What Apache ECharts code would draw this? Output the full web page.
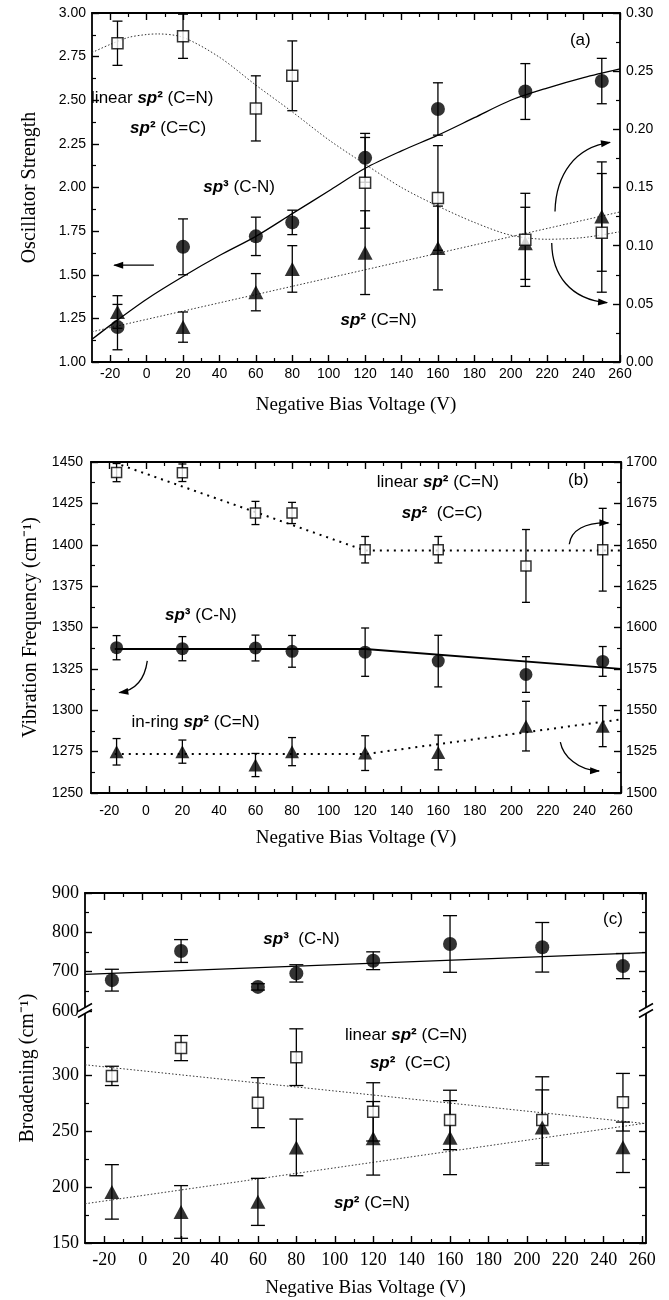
<!DOCTYPE html>
<html><head><meta charset="utf-8">
<script src="https://cdn.jsdelivr.net/npm/echarts@6/dist/echarts.min.js"></script>
<style>html,body{margin:0;padding:0;background:#fff}#c{width:669px;height:1300px}</style>
</head><body><div id="c"></div>
<script>
// ---------------- data ----------------
const xTickLabels = [-20,0,20,40,60,80,100,120,140,160,180,200,220,240,260];
const xMinorTicks = [-10,10,30,50,70,90,110,130,150,170,190,210,230,250];
const biasV = [-16, 20, 60, 80, 120, 160, 208, 250];

// panel (a) oscillator strength
const aLeftTicks = [1.00,1.25,1.50,1.75,2.00,2.25,2.50,2.75,3.00];
const aLeftMinor = [1.125,1.375,1.625,1.875,2.125,2.375,2.625,2.875];
const aRightTicks = [0.00,0.05,0.10,0.15,0.20,0.25,0.30];
const aRightMinor = [0.025,0.075,0.125,0.175,0.225,0.275];
const aSp3 = [1.20, 1.66, 1.72, 1.80, 2.17, 2.45, 2.55, 2.61];
const aSp3Err = [0.13, 0.16, 0.11, 0.07, 0.14, 0.15, 0.16, 0.13];
const aLin = [0.274, 0.280, 0.218, 0.246, 0.154, 0.141, 0.105, 0.111];
const aLinErr = [0.019, 0.019, 0.028, 0.030, 0.039, 0.045, 0.040, 0.051];
const aRing = [0.043, 0.030, 0.060, 0.080, 0.094, 0.098, 0.102, 0.125];
const aRingErr = [0.014, 0.013, 0.016, 0.020, 0.036, 0.036, 0.031, 0.047];
const aSp3FitX = [-30,-20,0,20,40,60,80,100,120,140,160,180,200,220,240,260];
const aSp3FitY = [1.13,1.21,1.36,1.49,1.61,1.72,1.85,1.98,2.11,2.21,2.30,2.40,2.50,2.57,2.63,2.68];
const aLinFitX = [-30,-20,-10,0,6,20,40,60,80,100,120,140,160,180,200,220,240,260];
const aLinFitY = [0.266,0.273,0.279,0.2815,0.282,0.279,0.262,0.238,0.215,0.191,0.170,0.150,0.134,0.120,0.109,0.1055,0.107,0.112];
const aRingFitX = [-30, 260];
const aRingFitY = [0.026, 0.129];

// panel (b) vibration frequency
const bLeftTicks = [1250,1275,1300,1325,1350,1375,1400,1425,1450];
const bLeftMinor = [1262.5,1287.5,1312.5,1337.5,1362.5,1387.5,1412.5,1437.5];
const bRightTicks = [1500,1525,1550,1575,1600,1625,1650,1675,1700];
const bRightMinor = [1512.5,1537.5,1562.5,1587.5,1612.5,1637.5,1662.5,1687.5];
const bLin = [1693.6, 1693.5, 1669.2, 1669.2, 1647, 1647, 1637.2, 1647];
const bLinErr = [5.5, 5.3, 7, 6.4, 8, 8, 22, 25];
const bSp3 = [1337.8, 1337.2, 1337.6, 1335.6, 1335.1, 1329.7, 1321.6, 1329.5];
const bSp3Err = [7.3, 7.3, 7.8, 9.6, 14.6, 15.6, 10.8, 9];
const bRing = [1524.9, 1525, 1516.9, 1525, 1524.1, 1524.5, 1540.4, 1540.4];
const bRingErr = [8, 7, 7, 8.5, 10.5, 10.5, 15, 12.4];
const bFitX = [-17, 120, 260];
const bLinFitY = [1699.5, 1646.5, 1646.5];
const bSp3FitY = [1337, 1337, 1325];
const bRingFitY = [1523.5, 1523.5, 1544.5];

// panel (c) broadening
const cUpTicks = [600,700,800,900];
const cUpMinor = [650,750,850];
const cLowTicks = [150,200,250,300];
const cLowMinor = [175,225,275,325];
const cSp3 = [678.4, 752.5, 661.3, 695.6, 727.8, 770.4, 762, 714.2];
const cSp3Err = [27.7, 29, 8, 22, 22.6, 72, 63, 32];
const cLin = [299.1, 323.9, 275.2, 315.8, 267, 259.8, 259.8, 275.6];
const cLinErr = [8.6, 11.2, 22.3, 25.3, 26, 26.5, 38.5, 25.7];
const cRing = [195.6, 177.7, 186.7, 235.3, 243.4, 244, 253, 235.4];
const cRingErr = [24.3, 23.5, 21, 25.3, 32.8, 33, 33.6, 22.5];
const cFitX = [-30, 262];
const cSp3FitY = [693, 748.5];
const cLinFitY = [309, 256.5];
const cRingFitY = [185, 257];

// ---------------- layout / styles ----------------
const SANS = '"Liberation Sans", Arial, sans-serif';
const SERIF = '"Liberation Serif", "Times New Roman", serif';
const grids = [
  {left:92, top:13, width:528, height:349},
  {left:91, top:462, width:530, height:331},
  {left:85, top:893, width:561, height:118},
  {left:85, top:1011, width:561, height:232}
];
const xAxes = [], yAxes = [];
function axisPair(list, gi, pos, min, max, majors, minors, o) {
  o = o || {};
  const major = {
    type:'value', gridIndex:gi, position:pos, min:min, max:max,
    axisLine:{show:o.line !== false, onZero:false, lineStyle:{color:'#000', width:1.8}},
    axisTick:{show:true, inside:true, length:7, customValues:majors, lineStyle:{color:'#000', width:1.4}},
    axisLabel: o.label ? {show:true, customValues:majors, formatter:o.fmt || (v => String(v)),
      fontFamily:o.font || SANS, fontSize:o.size || 14, color:'#000', margin:o.margin || 6} : {show:false},
    splitLine:{show:false}
  };
  if (o.name) {
    major.name = o.name; major.nameLocation = 'middle'; major.nameGap = o.nameGap;
    major.nameTextStyle = {fontFamily:SERIF, fontSize:o.nameSize || 19, color:'#000'};
  }
  list.push(major);
  const idx = list.length - 1;
  list.push({type:'value', gridIndex:gi, position:pos, min:min, max:max,
    axisLine:{show:false, onZero:false},
    axisTick:{show:true, inside:true, length:4, customValues:minors, lineStyle:{color:'#000', width:1.2}},
    axisLabel:{show:false}, splitLine:{show:false}});
  return idx;
}
const XT = 'Negative Bias Voltage (V)';
// grid 0
const ax0 = axisPair(xAxes, 0, 'bottom', -30, 260, xTickLabels, xMinorTicks, {label:true, margin:5, name:XT, nameGap:34});
axisPair(xAxes, 0, 'top', -30, 260, xTickLabels, xMinorTicks, {});
const ay0L = axisPair(yAxes, 0, 'left', 1, 3, aLeftTicks, aLeftMinor, {label:true, fmt:v=>v.toFixed(2), margin:6, name:'Oscillator Strength', nameGap:52, nameSize:20});
const ay0R = axisPair(yAxes, 0, 'right', 0, 0.3, aRightTicks, aRightMinor, {label:true, fmt:v=>v.toFixed(2), margin:6});
// grid 1
const ax1 = axisPair(xAxes, 1, 'bottom', -30, 260, xTickLabels, xMinorTicks, {label:true, margin:11, name:XT, nameGap:36});
axisPair(xAxes, 1, 'top', -30, 260, xTickLabels, xMinorTicks, {});
const ay1L = axisPair(yAxes, 1, 'left', 1250, 1450, bLeftTicks, bLeftMinor, {label:true, margin:8, name:'Vibration Frequency (cm\u207B\u00B9)', nameGap:50, nameSize:20});
const ay1R = axisPair(yAxes, 1, 'right', 1500, 1700, bRightTicks, bRightMinor, {label:true, margin:5});
// grid 2 (upper part of c)
const ax2 = axisPair(xAxes, 2, 'top', -30, 262, xTickLabels, xMinorTicks, {});
const ay2L = axisPair(yAxes, 2, 'left', 600, 900, cUpTicks, cUpMinor, {label:true, font:SERIF, size:18, margin:6});
axisPair(yAxes, 2, 'right', 600, 900, cUpTicks, cUpMinor, {});
// grid 3 (lower part of c)
const ax3 = axisPair(xAxes, 3, 'bottom', -30, 262, xTickLabels, xMinorTicks, {label:true, font:SERIF, size:18, margin:8, name:XT, nameGap:36});
const ay3L = axisPair(yAxes, 3, 'left', 150, 357, cLowTicks, cLowMinor, {label:true, font:SERIF, size:18, margin:6});
axisPair(yAxes, 3, 'right', 150, 357, cLowTicks, cLowMinor, {});

// ---------------- series helpers ----------------
function pts(xs, ys) { return xs.map((x, i) => [x, ys[i]]); }
function errSeries(xi, yi, ys, es, cap) {
  return {type:'custom', xAxisIndex:xi, yAxisIndex:yi, z:2, silent:true, clip:false,
    data: biasV.map((x, i) => [x, ys[i] - es[i], ys[i] + es[i]]),
    encode:{x:0, y:[1,2]},
    renderItem:function(params, api) {
      const x = api.value(0);
      const lo = api.coord([x, api.value(1)]), hi = api.coord([x, api.value(2)]);
      const s = {stroke:'#000', lineWidth:1.3};
      return {type:'group', children:[
        {type:'line', shape:{x1:lo[0], y1:lo[1], x2:hi[0], y2:hi[1]}, style:s},
        {type:'line', shape:{x1:lo[0]-cap/2, y1:lo[1], x2:lo[0]+cap/2, y2:lo[1]}, style:s},
        {type:'line', shape:{x1:hi[0]-cap/2, y1:hi[1], x2:hi[0]+cap/2, y2:hi[1]}, style:s}
      ]};
    }};
}
function marks(xi, yi, ys, kind, size) {
  const base = {type:'scatter', xAxisIndex:xi, yAxisIndex:yi, z:4, silent:true, data:pts(biasV, ys)};
  if (kind === 'circle') return Object.assign(base, {symbol:'circle', symbolSize:size, itemStyle:{color:'#000'}});
  if (kind === 'square') return Object.assign(base, {symbol:'rect', symbolSize:size, itemStyle:{color:'#fff', borderColor:'#000', borderWidth:1.5}});
  return Object.assign(base, {symbol:'triangle', symbolSize:size, itemStyle:{color:'#000'}});
}
function fit(xi, yi, xs, ys, style, smooth) {
  return {type:'line', xAxisIndex:xi, yAxisIndex:yi, z:1, silent:true, showSymbol:false, symbol:'none',
    smooth:smooth || false, data:pts(xs, ys), lineStyle:style};
}
const solid = w => ({color:'#000', width:w, type:'solid'});
const dotThin = {color:'#333', width:1, type:[1.5,2]};
const dotB = {color:'#000', width:2, type:[2,5]};

const series = [
  // (a)
  fit(ax0, ay0L, aSp3FitX, aSp3FitY, solid(1.3), 0.3),
  fit(ax0, ay0R, aLinFitX, aLinFitY, dotThin, 0.3),
  fit(ax0, ay0R, aRingFitX, aRingFitY, dotThin),
  errSeries(ax0, ay0L, aSp3, aSp3Err, 10),
  errSeries(ax0, ay0R, aLin, aLinErr, 10),
  errSeries(ax0, ay0R, aRing, aRingErr, 10),
  marks(ax0, ay0R, aRing, 'triangle', [15,14]),
  marks(ax0, ay0R, aLin, 'square', 11),
  marks(ax0, ay0L, aSp3, 'circle', 14),
  // (b)
  fit(ax1, ay1R, bFitX, bLinFitY, dotB),
  fit(ax1, ay1L, bFitX, bSp3FitY, solid(2)),
  fit(ax1, ay1R, bFitX, bRingFitY, dotB),
  errSeries(ax1, ay1R, bLin, bLinErr, 8),
  errSeries(ax1, ay1L, bSp3, bSp3Err, 8),
  errSeries(ax1, ay1R, bRing, bRingErr, 8),
  marks(ax1, ay1R, bLin, 'square', 10),
  marks(ax1, ay1L, bSp3, 'circle', 13),
  marks(ax1, ay1R, bRing, 'triangle', [14,13]),
  // (c)
  fit(ax2, ay2L, cFitX, cSp3FitY, solid(1.3)),
  fit(ax3, ay3L, cFitX, cLinFitY, dotThin),
  fit(ax3, ay3L, cFitX, cRingFitY, dotThin),
  errSeries(ax2, ay2L, cSp3, cSp3Err, 14),
  errSeries(ax3, ay3L, cLin, cLinErr, 14),
  errSeries(ax3, ay3L, cRing, cRingErr, 14),
  marks(ax2, ay2L, cSp3, 'circle', 14),
  marks(ax3, ay3L, cLin, 'square', 11),
  marks(ax3, ay3L, cRing, 'triangle', [15,14])
];

const chart = echarts.init(document.getElementById('c'), null, {renderer:'canvas', width:669, height:1300});
chart.setOption({animation:false, backgroundColor:'#fff', grid:grids, xAxis:xAxes, yAxis:yAxes, series:series});

// ---------------- annotations (data coordinates) ----------------
const labelsA = [
  {xi:ax0, yi:ay0L, at:[-30.5, 2.513], t:'linear {b|sp}{s|\u00B2} (C=N)'},
  {xi:ax0, yi:ay0L, at:[-9.1, 2.341], t:'{b|sp}{s|\u00B2} (C=C)'},
  {xi:ax0, yi:ay0L, at:[31.1, 2.003], t:'{b|sp}{s|\u00B3} (C-N)'},
  {xi:ax0, yi:ay0L, at:[106.5, 1.237], t:'{b|sp}{s|\u00B2} (C=N)'},
  {xi:ax0, yi:ay0L, at:[232.5, 2.843], t:'(a)'},
  {xi:ax1, yi:ay1L, at:[126.3, 1437.9], t:'linear {b|sp}{s|\u00B2} (C=N)'},
  {xi:ax1, yi:ay1L, at:[140, 1418.8], t:'{b|sp}{s|\u00B2}  (C=C)'},
  {xi:ax1, yi:ay1L, at:[231, 1438.9], t:'(b)'},
  {xi:ax1, yi:ay1L, at:[10.5, 1357.4], t:'{b|sp}{s|\u00B3} (C-N)'},
  {xi:ax1, yi:ay1L, at:[-7.8, 1292.9], t:'in-ring {b|sp}{s|\u00B2} (C=N)'},
  {xi:ax2, yi:ay2L, at:[62.8, 782.4], t:'{b|sp}{s|\u00B3}  (C-N)'},
  {xi:ax2, yi:ay2L, at:[239.6, 833.6], t:'(c)'},
  {xi:ax3, yi:ay3L, at:[105.3, 334.9], t:'linear {b|sp}{s|\u00B2} (C=N)'},
  {xi:ax3, yi:ay3L, at:[118.3, 310.5], t:'{b|sp}{s|\u00B2}  (C=C)'},
  {xi:ax3, yi:ay3L, at:[99.6, 185.2], t:'{b|sp}{s|\u00B2} (C=N)'}
];
// arrows: [start, cp1, cp2, end]
const arrowsA = [
  {xi:ax0, yi:ay0L, p:[[4,1.555],[-3,1.555],[-10,1.555],[-17.8,1.555]]},
  {xi:ax0, yi:ay0L, p:[[224.3,1.863],[224.8,2.075],[235.3,2.230],[254.5,2.258]]},
  {xi:ax0, yi:ay0L, p:[[222.5,1.682],[222.7,1.501],[232.6,1.358],[252.9,1.340]]},
  {xi:ax1, yi:ay1L, p:[[0.8,1329.8],[-0.4,1320.1],[-4.2,1312.3],[-14.5,1310.6]]},
  {xi:ax1, yi:ay1L, p:[[231.7,1400.3],[232.7,1408.8],[240.3,1413.6],[253.1,1413.2]]},
  {xi:ax1, yi:ay1L, p:[[226.8,1280.8],[228.3,1272.2],[236.5,1263.7],[248,1263.3]]}
];
const cBreakY = 600;

const g = [];
const toPx = (xi, yi, v) => chart.convertToPixel({xAxisIndex:xi, yAxisIndex:yi}, v);
const rich = {b:{fontStyle:'italic', fontWeight:'bold', fontFamily:SANS, fontSize:17},
              s:{fontWeight:'bold', fontFamily:SANS, fontSize:17}};
labelsA.forEach(l => {
  const p = toPx(l.xi, l.yi, l.at);
  g.push({type:'text', x:p[0], y:p[1], silent:true, z:10, style:{text:l.t, rich:rich,
    fontFamily:SANS, fontSize:17, fill:'#000', align:'left', verticalAlign:'middle'}});
});
arrowsA.forEach(a => {
  const q = a.p.map(v => toPx(a.xi, a.yi, v));
  g.push({type:'bezierCurve', silent:true, z:10, shape:{x1:q[0][0], y1:q[0][1], cpx1:q[1][0], cpy1:q[1][1],
    cpx2:q[2][0], cpy2:q[2][1], x2:q[3][0], y2:q[3][1]}, style:{stroke:'#000', lineWidth:1.3, fill:null}});
  const dx = q[3][0]-q[2][0], dy = q[3][1]-q[2][1], L = Math.hypot(dx, dy) || 1;
  const ux = dx/L, uy = dy/L, hl = 9, hw = 3.5;
  const bx = q[3][0]-ux*hl, by = q[3][1]-uy*hl;
  g.push({type:'polygon', silent:true, z:10, shape:{points:[[q[3][0]+ux*1, q[3][1]+uy*1],[bx-uy*hw, by+ux*hw],[bx+uy*hw, by-ux*hw]]},
    style:{fill:'#000'}});
});
// y title for panel (c), spanning both parts
const pcTop = toPx(ax2, ay2L, [-30, 900]), pcBot = toPx(ax3, ay3L, [-30, 150]);
g.push({type:'text', x:pcTop[0]-57, y:(pcTop[1]+pcBot[1])/2, rotation:Math.PI/2, silent:true,
  style:{text:'Broadening (cm\u207B\u00B9)', fontFamily:SERIF, fontSize:20, fill:'#000', align:'center', verticalAlign:'middle'}});
// axis break marks
[-30, 262].forEach(xv => {
  const p = toPx(ax2, ay2L, [xv, cBreakY]);
  const x = p[0], y = p[1];
  g.push({type:'polygon', silent:true, z:11, shape:{points:[[x-7,y+0.5],[x+7,y-7.5],[x+7,y-1.5],[x-7,y+6.5]]}, style:{fill:'#fff'}});
  g.push({type:'line', silent:true, z:12, shape:{x1:x-7, y1:y+0.5, x2:x+7, y2:y-7.5}, style:{stroke:'#000', lineWidth:1.5}});
  g.push({type:'line', silent:true, z:12, shape:{x1:x-7, y1:y+6.5, x2:x+7, y2:y-1.5}, style:{stroke:'#000', lineWidth:1.5}});
});
chart.setOption({graphic:g});
</script>
</body></html>
